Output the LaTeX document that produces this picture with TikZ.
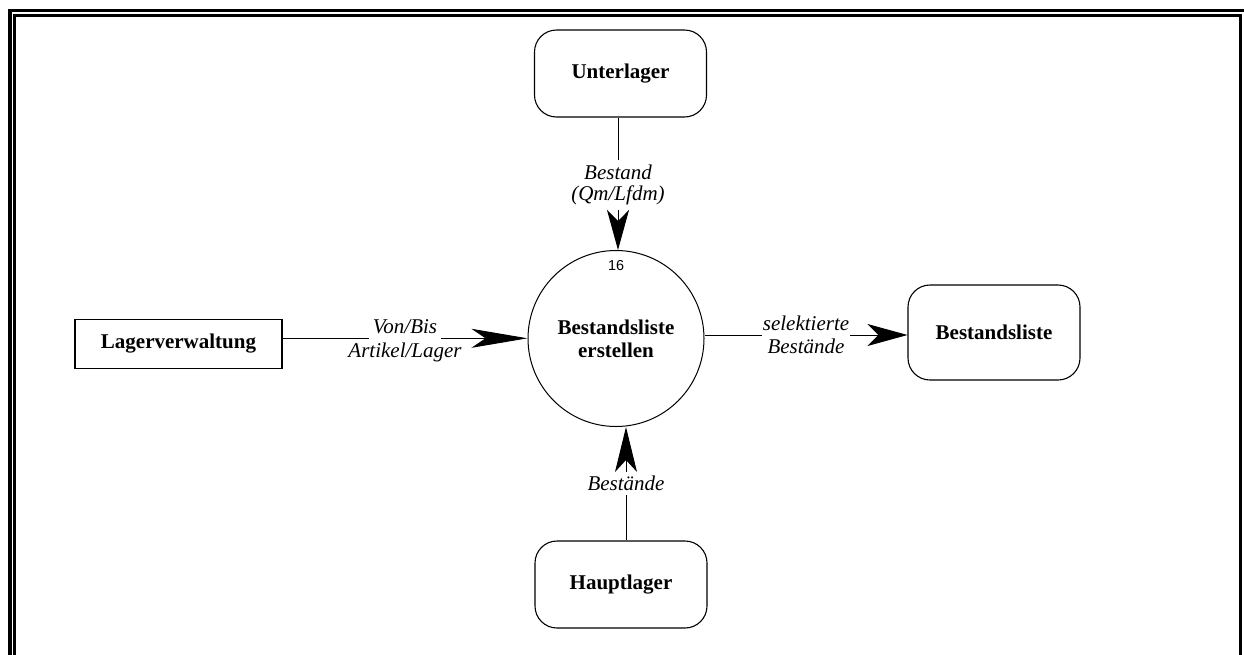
\documentclass[tikz,border=0pt]{standalone}
\usepackage{fontspec}
\setmainfont{Liberation Serif}
\newfontfamily\helv{Liberation Sans}
\usetikzlibrary{arrows.meta}
\begin{document}
\begin{tikzpicture}[x=1pt,y=-1pt,
  every node/.style={font=\fontsize{21}{24}\selectfont},
  store/.style={draw, line width=1.1pt, rounded corners=22pt, minimum width=172pt,
    font=\fontsize{21}{24}\selectfont\bfseries},
  term/.style={draw, line width=1.1pt, minimum width=207pt, minimum height=49pt,
    font=\fontsize{21}{24}\selectfont\bfseries},
  proc/.style={draw, circle, line width=1pt, minimum size=176pt, inner sep=0pt,
    align=center, font=\fontsize{21}{23}\selectfont\bfseries},
  flowlbl/.style={font=\fontsize{21}{21}\selectfont\itshape, inner sep=0pt, anchor=base},
  flow/.style={line width=0.9pt, -{Stealth[length=40pt,width=22pt,inset=11pt]}},
  plain/.style={line width=0.9pt}
]
\useasboundingbox (0,0) rectangle (1244,654);
\clip (0,0) rectangle (1244,654);
\fill[white] (0,0) rectangle (1244,654);

% double frame round the sheet
\draw[line width=3.8pt] (10,10.5) rectangle (1290,700);
\draw[line width=3pt] (14.8,15.3) rectangle (1240.5,700);

% process
\node[proc] (proc) at (616,338.5) {Bestandsliste\\erstellen};
\node[font=\helv\fontsize{14.4}{16}\selectfont, anchor=base, inner sep=0pt] (num) at (616,270) {16};

% terminators and stores
\node[store, minimum height=87pt] (unter) at (620.5,73.5) {Unterlager};
\node[store, minimum height=87pt] (haupt) at (621,584.5) {Hauptlager};
\node[store, minimum height=95pt] (bliste) at (994,332.5) {Bestandsliste};
\node[term] (lager) at (178.5,343.8) {Lagerverwaltung};

% flow labels
\node[flowlbl, anchor=north, align=center, inner ysep=5pt, inner xsep=2pt] (toplbl) at (618,160) {Bestand\\(Qm/Lfdm)};
\node[flowlbl, inner xsep=4pt] (vb) at (405,333) {Von/Bis};
\node[flowlbl] (al) at (405,357) {Artikel/Lager};
\node[flowlbl, inner xsep=1pt] (sel) at (806,330) {selektierte};
\node[flowlbl] (selb) at (806,353) {Bestände};
\node[flowlbl, anchor=north, inner ysep=4pt] (btl) at (626,472) {Bestände};

% flows
\draw[plain] (unter.south -| toplbl.north) -- (toplbl.north);
\draw[flow] (toplbl.south) -- (proc.north -| toplbl.south);

\coordinate (lin) at ([yshift=5.5pt]lager.east);
\draw[plain] (lin) -- (lin -| vb.west);
\draw[line width=0.9pt, -{Stealth[length=56pt,width=19pt,inset=14pt]}] (lin -| vb.east) -- (lin -| proc.west);

\coordinate (rin) at ([yshift=-2.5pt]bliste.west);
\draw[plain] (rin -| proc.east) -- (rin -| sel.west);
\draw[flow] (rin -| sel.east) -- (rin);

\draw[plain] (haupt.north -| btl.south) -- (btl.south);
\draw[line width=0.9pt, -{Stealth[length=45pt,width=22pt,inset=12pt]}] (btl.north) -- (proc.south -| btl.north);
\end{tikzpicture}
\end{document}
